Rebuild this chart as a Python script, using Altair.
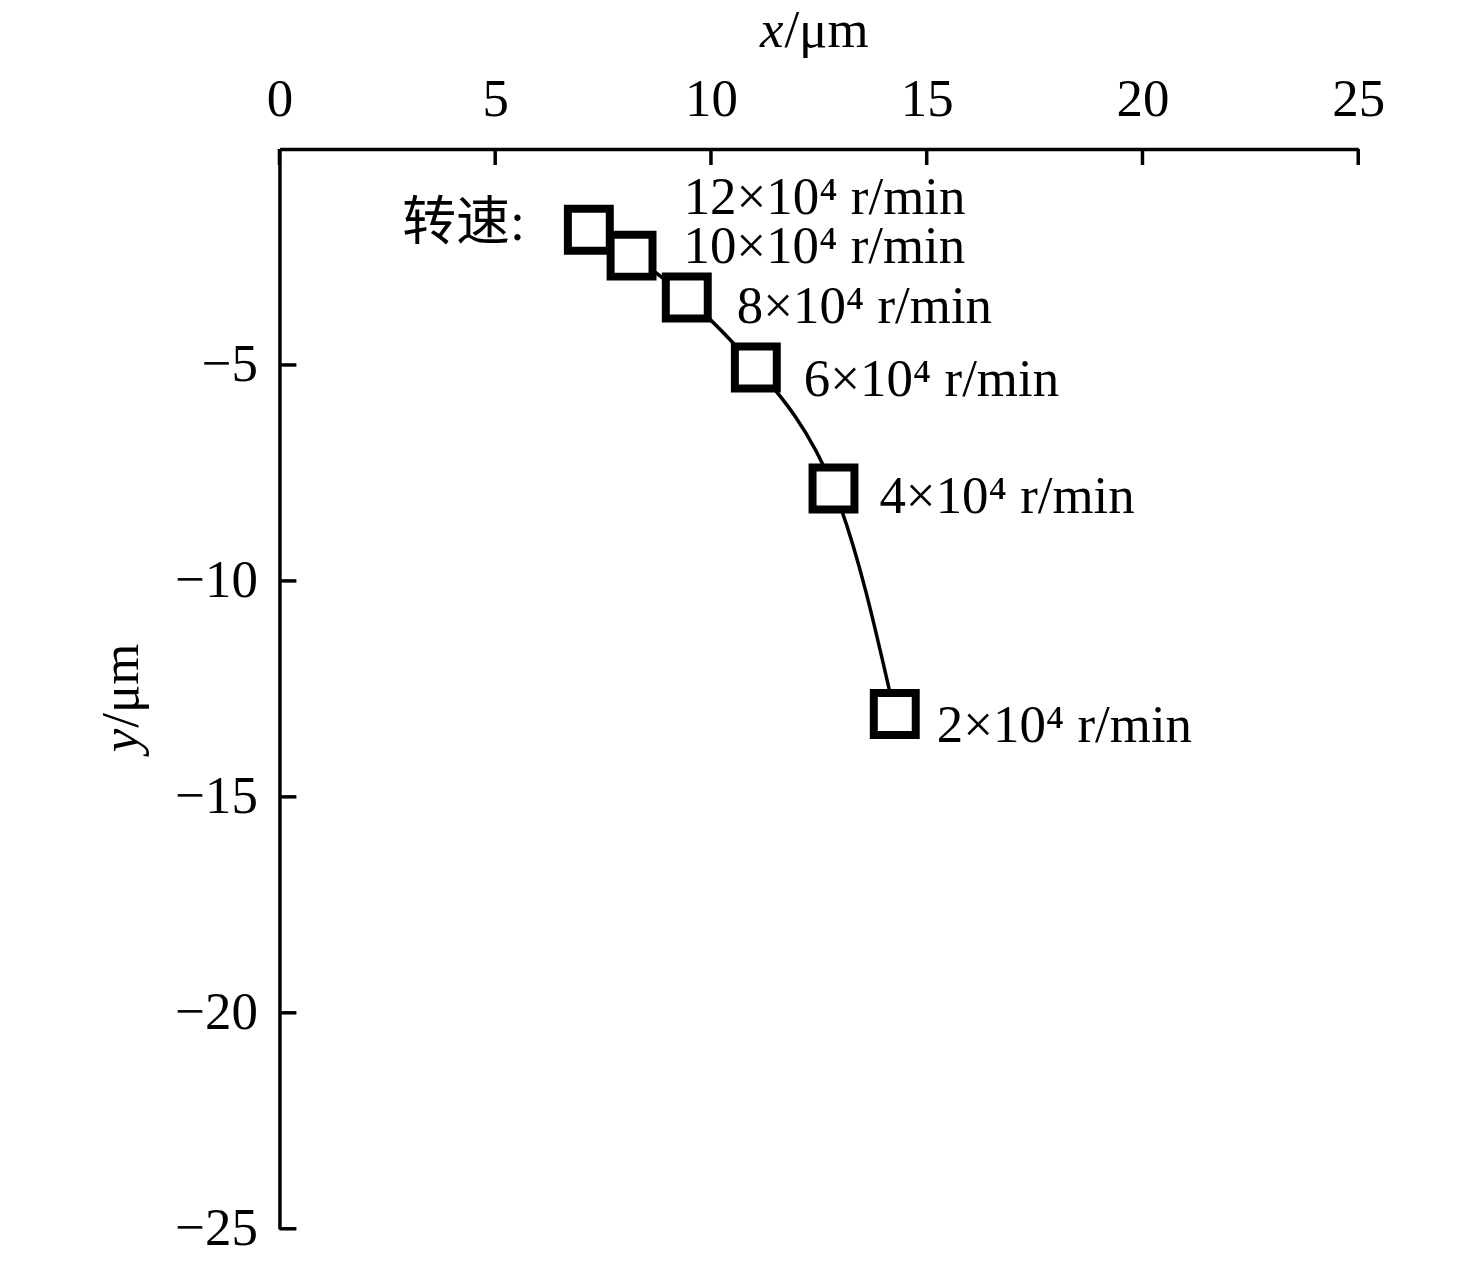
import altair as alt
import pandas as pd

# data
x_vals = [7.17, 8.16, 9.44, 11.04, 12.84, 14.26]
y_vals = [-1.87, -2.47, -3.44, -5.06, -7.86, -13.08]
speed_labels = ["12×10⁴ r/min", "10×10⁴ r/min", "8×10⁴ r/min",
                "6×10⁴ r/min", "4×10⁴ r/min", "2×10⁴ r/min"]
x_ticks = [0, 5, 10, 15, 20, 25]
y_ticks = [-5, -10, -15, -20, -25]

# label placement offsets (pixels)
label_dx = [95, 52, 50, 48, 46, 42]
label_dy = [-16, 7, 25, 29, 25, 28]

df = pd.DataFrame({"x": x_vals, "y": y_vals, "label": speed_labels,
                   "order": list(range(len(x_vals)))})

W, H = 1081, 1082
serif = "Liberation Serif"
xs = alt.Scale(domain=[0, 25], nice=False, zero=False)
ys = alt.Scale(domain=[-25, 0], nice=False)

x_axis = alt.Axis(orient="top", values=x_ticks, title=None, tickSize=0,
                  labelFont=serif, labelFontSize=53, labelColor="black",
                  labelPadding=23, domainColor="black", domainWidth=3.5,
                  grid=False, labelFlush=False)
y_axis = alt.Axis(orient="left", values=y_ticks, title=None, tickSize=0,
                  labelFont=serif, labelFontSize=53, labelColor="black",
                  labelPadding=22, domainColor="black", domainWidth=3.5,
                  grid=False, labelFlush=False)


def X(field):
    return alt.X(field, scale=xs, axis=x_axis, title=None)


def Y(field):
    return alt.Y(field, scale=ys, axis=y_axis, title=None)


base = alt.Chart(df)

line = base.mark_line(interpolate="natural", color="black", strokeWidth=3.5).encode(
    x=X("x:Q"), y=Y("y:Q"), order="order:Q",
)

points = base.mark_square(fill="white", stroke="black", strokeWidth=8,
                          size=1764, opacity=1).encode(
    x=X("x:Q"), y=Y("y:Q"),
)

labels = []
for i in range(len(x_vals)):
    labels.append(
        base.transform_filter(alt.datum.order == i).mark_text(
            align="left", baseline="alphabetic", dx=label_dx[i], dy=label_dy[i],
            font=serif, fontSize=53, color="black"
        ).encode(x=X("x:Q"), y=Y("y:Q"), text="label:N")
    )

zhuansu = base.transform_filter(alt.datum.order == 0).mark_text(
    align="right", baseline="middle", dx=-64, dy=-6,
    font="Liberation Serif, Noto Sans CJK SC", fontSize=54, color="black"
).encode(x=X("x:Q"), y=Y("y:Q"), text=alt.value("转速:"))

xt = alt.Chart(pd.DataFrame({"x": x_ticks})).mark_rule(color="black", strokeWidth=3.5).encode(
    x=X("x:Q"), y=alt.value(0), y2=alt.value(16),
)
yt = alt.Chart(pd.DataFrame({"y": y_ticks})).mark_rule(color="black", strokeWidth=3.5).encode(
    y=Y("y:Q"), x=alt.value(0), x2=alt.value(17),
)

title_df = pd.DataFrame({"a": [0]})
tx1 = alt.Chart(title_df).mark_text(align="right", baseline="alphabetic", font=serif,
                                    fontSize=53, fontStyle="italic", color="black").encode(
    x=alt.value(505), y=alt.value(-102), text=alt.value("x"))
tx2 = alt.Chart(title_df).mark_text(align="left", baseline="alphabetic", font=serif,
                                    fontSize=53, color="black").encode(
    x=alt.value(506), y=alt.value(-102), text=alt.value("/μm"))
ty1 = alt.Chart(title_df).mark_text(align="right", baseline="alphabetic", font=serif,
                                    fontSize=53, fontStyle="italic", angle=270, color="black").encode(
    x=alt.value(-142), y=alt.value(581), text=alt.value("y"))
ty2 = alt.Chart(title_df).mark_text(align="left", baseline="alphabetic", font=serif,
                                    fontSize=53, angle=270, color="black").encode(
    x=alt.value(-142), y=alt.value(580), text=alt.value("/μm"))

chart = alt.layer(line, xt, yt, points, *labels, zhuansu, tx1, tx2, ty1, ty2).properties(
    width=W, height=H,
    autosize=alt.AutoSizeParams(type="none"),
    padding={"left": 272, "top": 140, "right": 110, "bottom": 27},
    background="white",
).configure_view(stroke=None)

chart.save("out.html", embed_options={"renderer": "svg", "actions": False})
